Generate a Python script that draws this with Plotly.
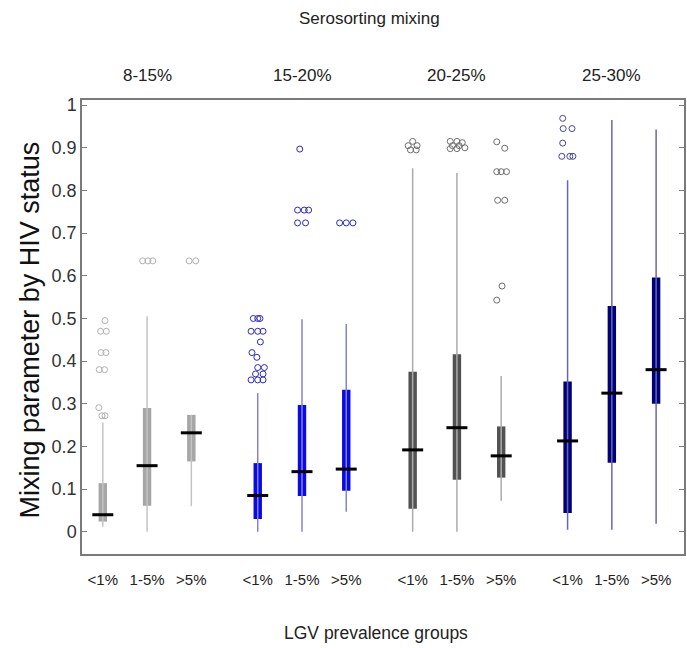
import plotly.graph_objects as go

# Serosorting mixing groups and LGV prevalence groups
groups = ["8-15%", "15-20%", "20-25%", "25-30%"]
prevalence = ["<1%", "1-5%", ">5%"]

# Box statistics per (group, prevalence) slot, in reading order
lower_whisker = [0.012, 0.000, 0.060,  0.000, 0.000, 0.047,  0.000, 0.000, 0.073,  0.005, 0.005, 0.019]
q1 =            [0.024, 0.061, 0.165,  0.030, 0.084, 0.096,  0.054, 0.122, 0.127,  0.044, 0.162, 0.300]
median =        [0.040, 0.155, 0.232,  0.085, 0.141, 0.147,  0.192, 0.244, 0.178,  0.213, 0.325, 0.380]
q3 =            [0.114, 0.290, 0.274,  0.161, 0.297, 0.333,  0.375, 0.416, 0.247,  0.352, 0.529, 0.596]
upper_whisker = [0.256, 0.505, 0.274,  0.325, 0.498, 0.487,  0.852, 0.841, 0.365,  0.824, 0.965, 0.943]

# Outliers: slot index, value, small horizontal jitter (category units)
outlier_slot = [0] * 10 + [1] * 3 + [2] * 2 + [3] * 16 + [4] * 6 + [5] * 3 + [6] * 5 + [7] * 8 + [8] * 9 + [9] * 7
outlier_value = [
    0.495, 0.470, 0.470, 0.420, 0.420, 0.380, 0.380, 0.291, 0.272, 0.272,
    0.635, 0.635, 0.635,
    0.635, 0.635,
    0.500, 0.500, 0.470, 0.470, 0.470, 0.445, 0.420, 0.409, 0.385, 0.385, 0.370, 0.370, 0.356, 0.356, 0.356, 0.500,
    0.897, 0.754, 0.754, 0.754, 0.724, 0.724,
    0.724, 0.724, 0.724,
    0.915, 0.905, 0.905, 0.895, 0.895,
    0.915, 0.915, 0.912, 0.905, 0.905, 0.900, 0.898, 0.898,
    0.914, 0.899, 0.844, 0.844, 0.844, 0.777, 0.777, 0.576, 0.543,
    0.969, 0.945, 0.945, 0.911, 0.880, 0.880, 0.880,
]
outlier_jitter = [
    0.05, -0.05, 0.08, -0.04, 0.07, -0.08, 0.04, -0.09, -0.02, 0.05,
    -0.10, 0.02, 0.13,
    -0.05, 0.10,
    -0.10, 0.05, -0.15, 0.00, 0.12, 0.06, -0.13, -0.02, 0.00, 0.15, -0.05, 0.12, -0.15, 0.00, 0.12, 0.00,
    -0.05, -0.10, 0.05, 0.15, -0.10, 0.08,
    -0.15, 0.00, 0.15,
    0.00, -0.10, 0.10, -0.05, 0.08,
    -0.15, 0.00, 0.12, -0.10, 0.05, 0.18, -0.15, 0.00,
    -0.10, 0.08, -0.10, 0.00, 0.12, -0.08, 0.08, 0.02, -0.10,
    -0.11, -0.10, 0.10, -0.11, -0.13, 0.05, 0.12,
]

# Per-group styling
box_colors = ["#a6a6a6", "#0a0ae8", "#525252", "#00007a"]
whisker_colors = ["#c4c4c4", "#8484cc", "#ababab", "#6868a8"]
outlier_colors = ["#b0b0b0", "#2a2ac4", "#6e6e6e", "#4646a0"]

y_ticks = [0, 0.1, 0.2, 0.3, 0.4, 0.5, 0.6, 0.7, 0.8, 0.9, 1]

FONT = "Liberation Sans, Arial, sans-serif"
GROUP_STEP = 3.5  # gap between serosorting groups on the x axis

positions = [g * GROUP_STEP + k for g in range(len(groups)) for k in range(len(prevalence))]

fig = go.Figure()

for g in range(len(groups)):
    idx = [g * 3 + k for k in range(3)]
    # whiskers
    wx, wy = [], []
    for i in idx:
        wx += [positions[i], positions[i], None]
        wy += [lower_whisker[i], upper_whisker[i], None]
    fig.add_trace(go.Scatter(x=wx, y=wy, mode="lines",
                             line=dict(color=whisker_colors[g], width=1.5),
                             hoverinfo="skip", showlegend=False))
    # boxes (interquartile range)
    fig.add_trace(go.Bar(x=[positions[i] for i in idx],
                         y=[q3[i] - q1[i] for i in idx],
                         base=[q1[i] for i in idx],
                         width=0.19,
                         marker=dict(color=box_colors[g], line=dict(width=0)),
                         showlegend=False))
    # outliers
    ox = [positions[s] + j for s, j in zip(outlier_slot, outlier_jitter) if s in idx]
    oy = [v for s, v in zip(outlier_slot, outlier_value) if s in idx]
    if ox:
        fig.add_trace(go.Scatter(x=ox, y=oy, mode="markers",
                                 marker=dict(symbol="circle-open", size=6,
                                             color=outlier_colors[g], line=dict(width=1)),
                                 showlegend=False))

# medians
fig.add_trace(go.Scatter(x=positions, y=median, mode="markers",
                         marker=dict(symbol="line-ew", size=15,
                                     line=dict(color="black", width=3)),
                         showlegend=False))

common = dict(showarrow=False, xanchor="center", yanchor="middle")
annotations = [
    dict(text="Serosorting mixing", xref="paper", yref="paper", x=0.477, y=1.18,
         font=dict(size=17, color="#222"), **common),
    dict(text="LGV prevalence groups", xref="paper", yref="paper", x=0.488, y=-0.174,
         font=dict(size=17.5, color="#222"), **common),
    dict(text="Mixing parameter by HIV status", xref="paper", yref="paper", x=-0.086, y=0.493,
         textangle=-90, font=dict(size=27, color="#111"), **common),
]
for g, name in enumerate(groups):
    annotations.append(dict(text=name, xref="x", yref="paper", x=g * GROUP_STEP + 1, y=1.055,
                            font=dict(size=17, color="#222"), **common))

fig.update_layout(
    width=687, height=648,
    margin=dict(l=82, r=1, t=100, b=94),
    paper_bgcolor="white", plot_bgcolor="white",
    barmode="overlay",
    font=dict(family=FONT, color="#333"),
    annotations=annotations,
    xaxis=dict(range=[-0.47, 13.13], tickvals=positions,
               ticktext=prevalence * len(groups),
               showline=True, linecolor="#7a7a7a", linewidth=1.5, mirror=True,
               ticks="", showgrid=False, zeroline=False,
               tickfont=dict(size=15, color="#222"), ticklabelstandoff=11),
    yaxis=dict(range=[-0.052, 1.012], tickvals=y_ticks,
               ticktext=[f"{v:g}" for v in y_ticks],
               showline=True, linecolor="#7a7a7a", linewidth=1.5, mirror="ticks",
               ticks="inside", ticklen=5, tickcolor="#7a7a7a",
               showgrid=False, zeroline=False,
               tickfont=dict(size=18, color="#333")),
)

fig.write_html("out.html")
